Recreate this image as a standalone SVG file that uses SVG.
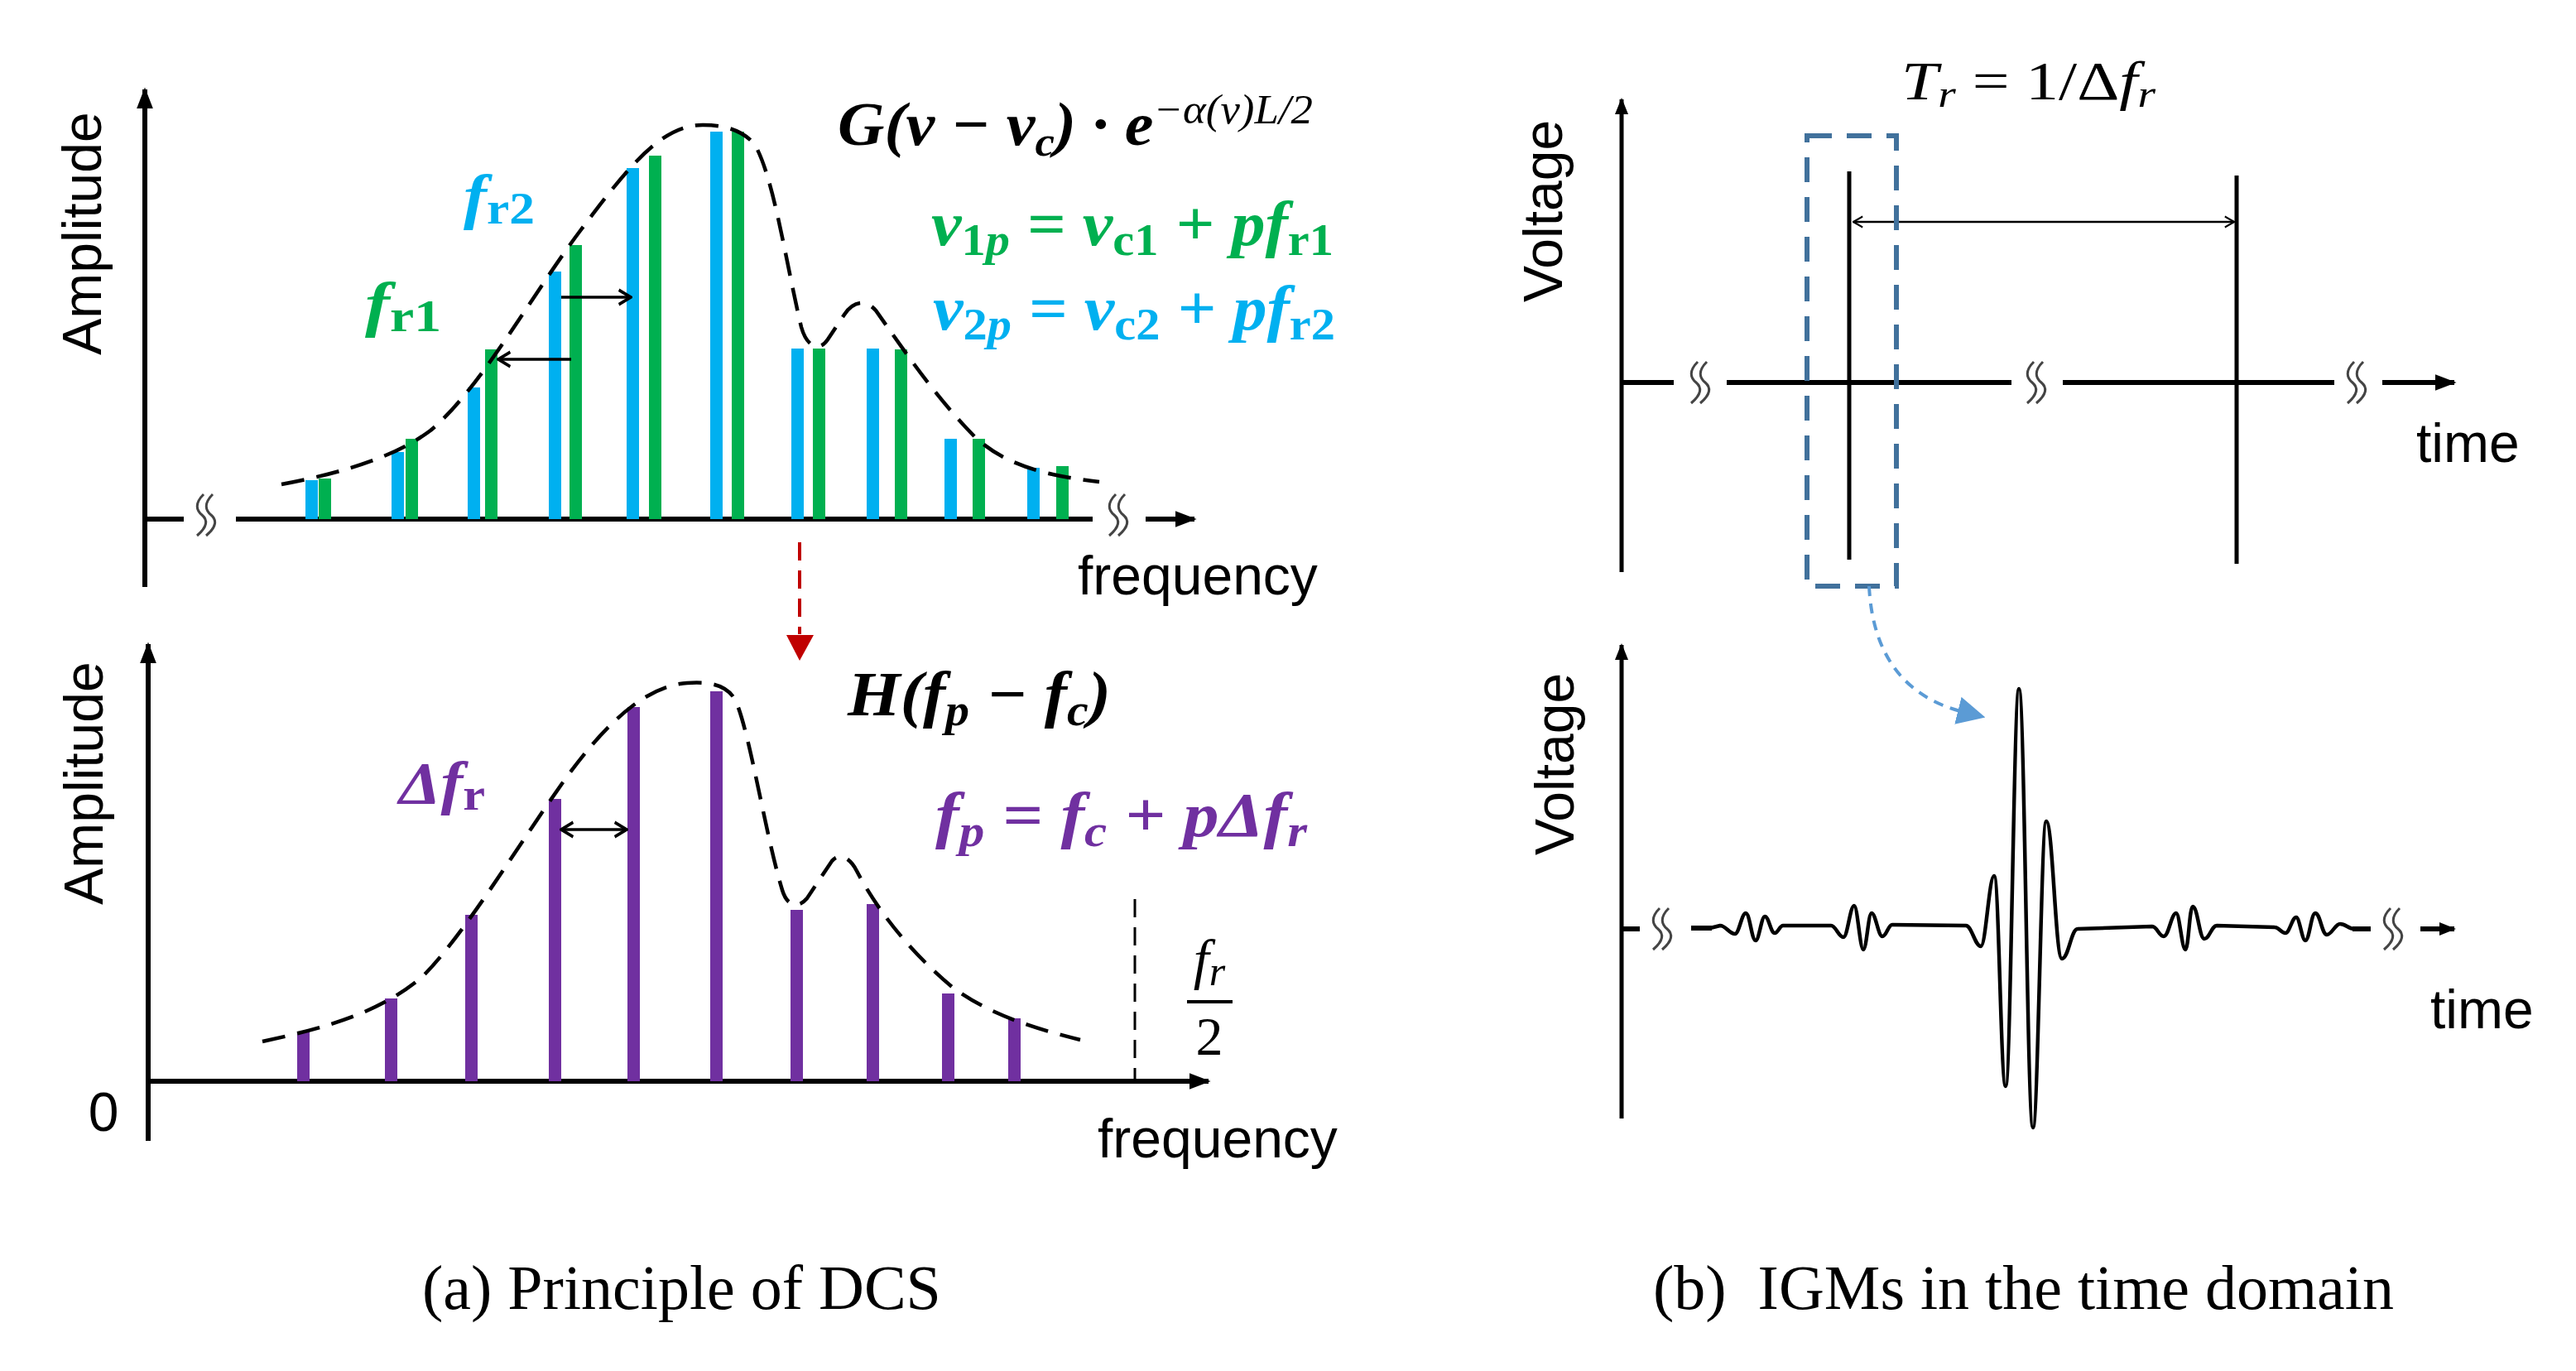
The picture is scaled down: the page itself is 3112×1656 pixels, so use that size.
<svg xmlns="http://www.w3.org/2000/svg" width="3112" height="1656" viewBox="0 0 3112 1656">
<style>
.ax{stroke:#000;stroke-width:6;fill:none}
.ax2{stroke:#000;stroke-width:5;fill:none}
.env{stroke:#000;stroke-width:4.5;fill:none;stroke-dasharray:28 15}
.lbl{font-family:"Liberation Sans",Arial,sans-serif;font-size:66px;fill:#000}
.m{font-family:"Liberation Serif","Times New Roman",serif;font-style:italic;font-weight:bold}
.mr{font-family:"Liberation Serif","Times New Roman",serif;font-style:italic;font-weight:normal}
.up{font-style:normal}
.cap{font-family:"Liberation Serif","Times New Roman",serif;font-size:76px;fill:#000}
.b{fill:#00B0F0}.g{fill:#00B050}.p{fill:#7030A0}
.brk{stroke:#444;stroke-width:3;fill:none}
</style>
<defs>
<marker id="ah" viewBox="0 0 10 10" refX="9" refY="5" markerWidth="26" markerHeight="20" markerUnits="userSpaceOnUse" orient="auto" preserveAspectRatio="none"><path d="M0,0 L10,5 L0,10 z" fill="#000"/></marker>
<marker id="ahs" viewBox="0 0 10 10" refX="9" refY="5" markerWidth="20" markerHeight="16" markerUnits="userSpaceOnUse" orient="auto" preserveAspectRatio="none"><path d="M0,0 L10,5 L0,10 z" fill="#000"/></marker>
<marker id="chev" viewBox="0 0 10 10" refX="9" refY="5" markerWidth="18" markerHeight="22" markerUnits="userSpaceOnUse" orient="auto-start-reverse" preserveAspectRatio="none"><path d="M1,1 L9,5 L1,9" fill="none" stroke="#000" stroke-width="1.8"/></marker>
<marker id="chevs" viewBox="0 0 10 10" refX="9" refY="5" markerWidth="14" markerHeight="16" markerUnits="userSpaceOnUse" orient="auto-start-reverse" preserveAspectRatio="none"><path d="M1,1 L9,5 L1,9" fill="none" stroke="#000" stroke-width="1.4"/></marker>
<marker id="lb" viewBox="0 0 10 10" refX="2" refY="5" markerWidth="34" markerHeight="34" markerUnits="userSpaceOnUse" orient="auto" preserveAspectRatio="none"><path d="M0,0 L10,5 L0,10 z" fill="#5B9BD5"/></marker>
<g id="brk"><path class="brk" d="M-2,-25 C-13,-14 -11,-6 -4,0 C3,6 3,14 -10,25"/><path class="brk" d="M9,-25 C-2,-14 0,-6 7,0 C14,6 14,14 1,25"/></g>
</defs>

<g id="panel-a-top">
<g id="axes-a-top">
<path class="ax" d="M175,709 V108" marker-end="url(#ah)"/>
<path class="ax" d="M175,627 H222 M285,627 H1320"/>
<path class="ax" d="M1384,627 H1443" marker-end="url(#ah)"/>
<use href="#brk" x="248" y="622"/>
<use href="#brk" x="1350" y="622"/>
</g>
<g id="bars-a-top">
<rect class="b" x="369" y="580" width="15" height="47"/><rect class="g" x="385" y="578" width="15" height="49"/>
<rect class="b" x="473" y="546" width="15" height="81"/><rect class="g" x="490" y="530" width="15" height="97"/>
<rect class="b" x="565" y="468" width="15" height="159"/><rect class="g" x="586" y="422" width="15" height="205"/>
<rect class="b" x="663" y="328" width="15" height="299"/><rect class="g" x="688" y="296" width="15" height="331"/>
<rect class="b" x="757" y="203" width="15" height="424"/><rect class="g" x="784" y="188" width="15" height="439"/>
<rect class="b" x="858" y="159" width="15" height="468"/><rect class="g" x="884" y="159" width="15" height="468"/>
<rect class="b" x="956" y="421" width="15" height="206"/><rect class="g" x="982" y="421" width="15" height="206"/>
<rect class="b" x="1047" y="421" width="15" height="206"/><rect class="g" x="1081" y="422" width="15" height="205"/>
<rect class="b" x="1141" y="530" width="15" height="97"/><rect class="g" x="1175" y="530" width="15" height="97"/>
<rect class="b" x="1241" y="565" width="15" height="62"/><rect class="g" x="1276" y="563" width="15" height="64"/>
</g>
<path id="env-a-top" class="env" d="M340,585 C420,570 480,550 520,520 C580,470 640,360 700,280 C760,200 800,150 850,151 C880,151 900,160 912,175 C935,215 950,320 968,395 C975,420 990,425 1000,410 L1020,380 C1030,365 1045,360 1058,375 C1090,420 1130,480 1180,530 C1220,565 1270,575 1328,582"/>
<path class="ax" style="stroke-width:3.5" d="M602,434 H690 M678,359 H762" marker-start="url(#chev)" marker-end="url(#chev)"/>
<text class="m b" x="560" y="262" font-size="74" textLength="86" lengthAdjust="spacingAndGlyphs">f<tspan class="up" font-size="54" dy="8">r2</tspan></text>
<text class="m g" x="441" y="392" font-size="74" textLength="92" lengthAdjust="spacingAndGlyphs">f<tspan class="up" font-size="54" dy="8">r1</tspan></text>
<text class="m" x="1012" y="175" font-size="74" textLength="574" lengthAdjust="spacingAndGlyphs">G(v − v<tspan font-size="50" dy="13">c</tspan><tspan dy="-13">) · e</tspan><tspan class="mr" font-size="50" dy="-26">−α(v)L/2</tspan></text>
<text class="m g" x="1125" y="296" font-size="76" textLength="486" lengthAdjust="spacingAndGlyphs">v<tspan font-size="54" dy="12"><tspan class="up">1</tspan>p</tspan><tspan dy="-12"> = ν</tspan><tspan class="up" font-size="54" dy="12">c1</tspan><tspan dy="-12"> + pf</tspan><tspan class="up" font-size="54" dy="12">r1</tspan></text>
<text class="m b" x="1127" y="398" font-size="76" textLength="486" lengthAdjust="spacingAndGlyphs">v<tspan font-size="54" dy="12"><tspan class="up">2</tspan>p</tspan><tspan dy="-12"> = ν</tspan><tspan class="up" font-size="54" dy="12">c2</tspan><tspan dy="-12"> + pf</tspan><tspan class="up" font-size="54" dy="12">r2</tspan></text>
<text class="lbl" transform="translate(122,282) rotate(-90)" text-anchor="middle">Amplitude</text>
<text class="lbl" x="1302" y="718">frequency</text>
</g>

<g id="connector-red">
<path d="M966,655 V766" stroke="#C00000" stroke-width="4" stroke-dasharray="22 12" fill="none"/>
<path d="M950,767 L983,767 L966,798 z" fill="#C00000"/>
</g>

<g id="panel-a-bottom">
<g id="axes-a-bottom">
<path class="ax" d="M179,1378 V778" marker-end="url(#ah)"/>
<path class="ax" d="M179,1306 H1460" marker-end="url(#ah)"/>
<path d="M1371,1086 V1305" stroke="#000" stroke-width="3" stroke-dasharray="22 12" fill="none"/>
</g>
<g id="bars-a-bottom" class="p">
<rect x="359" y="1246" width="15" height="60"/>
<rect x="465" y="1206" width="15" height="100"/>
<rect x="562" y="1105" width="15" height="201"/>
<rect x="663" y="965" width="15" height="341"/>
<rect x="758" y="854" width="15" height="452"/>
<rect x="858" y="835" width="15" height="471"/>
<rect x="955" y="1099" width="15" height="207"/>
<rect x="1047" y="1092" width="15" height="214"/>
<rect x="1138" y="1200" width="15" height="106"/>
<rect x="1218" y="1230" width="15" height="76"/>
</g>
<path id="env-a-bottom" class="env" d="M317,1258 C400,1240 460,1222 510,1180 C560,1130 620,1030 680,945 C730,875 780,828 830,825 C860,823 878,828 888,845 C905,880 925,1010 945,1075 C950,1092 962,1100 975,1085 L1005,1040 C1015,1028 1028,1038 1035,1052 C1060,1100 1100,1150 1150,1192 C1190,1222 1240,1240 1305,1256"/>
<path class="ax" style="stroke-width:3.5" d="M678,1002 H757" marker-start="url(#chev)" marker-end="url(#chev)"/>
<text class="m p" x="482" y="970" font-size="72" textLength="104" lengthAdjust="spacingAndGlyphs">Δf<tspan class="up" font-size="54" dy="8">r</tspan></text>
<text class="m" x="1024" y="864" font-size="76" textLength="318" lengthAdjust="spacingAndGlyphs">H(f<tspan font-size="54" dy="12">p</tspan><tspan dy="-12"> − f</tspan><tspan font-size="54" dy="12">c</tspan><tspan dy="-12">)</tspan></text>
<text class="m p" x="1130" y="1010" font-size="76" textLength="449" lengthAdjust="spacingAndGlyphs">f<tspan font-size="54" dy="12">p</tspan><tspan dy="-12"> = f</tspan><tspan font-size="54" dy="12">c</tspan><tspan dy="-12"> + pΔf</tspan><tspan font-size="54" dy="12">r</tspan></text>
<text class="mr" x="1461" y="1182" font-size="68" text-anchor="middle">f<tspan font-size="50" dy="8">r</tspan></text>
<path d="M1434,1210 H1489" stroke="#000" stroke-width="4"/>
<text class="mr up" x="1461" y="1274" font-size="66" text-anchor="middle">2</text>
<text class="lbl" transform="translate(124,946) rotate(-90)" text-anchor="middle">Amplitude</text>
<text class="lbl" x="125" y="1366" text-anchor="middle" font-size="60">0</text>
<text class="lbl" x="1326" y="1398">frequency</text>
</g>

<g id="panel-b-top">
<g id="axes-b-top">
<path class="ax2" d="M1959,691 V120" marker-end="url(#ahs)"/>
<path class="ax" d="M1959,462 H2022 M2086,462 H2430 M2492,462 H2820"/>
<path class="ax" d="M2878,462 H2965" marker-end="url(#ah)"/>
<use href="#brk" x="2053" y="462"/>
<use href="#brk" x="2459" y="462"/>
<use href="#brk" x="2846" y="462"/>
</g>
<path id="pulse1" class="ax2" d="M2234,207 V676"/>
<path id="pulse2" class="ax2" d="M2702,212 V681"/>
<path stroke="#000" stroke-width="2.5" fill="none" d="M2239,268 H2699" marker-start="url(#chevs)" marker-end="url(#chevs)"/>
<rect id="select-box" x="2183" y="164" width="108" height="544" fill="none" stroke="#41719C" stroke-width="6" stroke-dasharray="30 18"/>
<text class="mr" x="2297" y="120" font-size="66" textLength="307" lengthAdjust="spacingAndGlyphs">T<tspan font-size="46" dy="9">r</tspan><tspan dy="-9" class="up"> = 1/Δ</tspan>f<tspan font-size="46" dy="9">r</tspan></text>
<text class="lbl" transform="translate(1887,255) rotate(-90)" text-anchor="middle">Voltage</text>
<text class="lbl" x="2919" y="558">time</text>
</g>

<g id="connector-blue">
<path d="M2258,708 C2262,790 2300,842 2372,860" fill="none" stroke="#5B9BD5" stroke-width="4" stroke-dasharray="12 9" marker-end="url(#lb)"/>
</g>

<g id="panel-b-bottom">
<g id="axes-b-bottom">
<path class="ax2" d="M1959,1351 V779" marker-end="url(#ahs)"/>
<path class="ax" d="M1959,1122 H1981 M2043,1121 H2068 M2842,1122 H2864"/>
<path class="ax" d="M2924,1122 H2965" marker-end="url(#ahs)"/>
<use href="#brk" x="2007" y="1122"/>
<use href="#brk" x="2890" y="1122"/>
</g>
<path id="igm" fill="none" stroke="#000" stroke-width="4.5" stroke-linejoin="round" d="M2066,1121 L2078,1118 C2085,1118 2089,1128 2096,1128 C2101,1128 2104,1103 2109,1103 C2114,1103 2116,1136 2121,1136 C2125,1136 2128,1107 2132,1107 C2137,1107 2139,1127 2144,1127 C2148,1127 2150,1118 2154,1118 L2212,1118 C2218,1118 2221,1132 2227,1132 C2232,1132 2235,1094 2240,1094 C2244,1094 2247,1147 2251,1147 C2255,1147 2257,1103 2261,1103 C2266,1103 2269,1131 2274,1131 C2279,1131 2281,1117 2286,1117 L2375,1118 C2382,1118 2386,1143 2393,1143 C2399,1143 2403,1058 2409,1058 C2415,1058 2417,1312 2423,1312 C2429,1312 2433,832 2439,832 C2446,832 2449,1362 2456,1362 C2462,1362 2466,992 2472,992 C2480,992 2483,1158 2491,1158 C2499,1158 2502,1122 2510,1122 L2600,1119 C2606,1119 2608,1131 2614,1131 C2620,1131 2623,1103 2629,1103 C2633,1103 2636,1147 2640,1147 C2644,1147 2645,1095 2649,1095 C2655,1095 2657,1134 2663,1134 C2669,1134 2672,1118 2678,1118 L2748,1120 C2753,1120 2756,1127 2761,1127 C2766,1127 2769,1108 2774,1108 C2778,1108 2781,1136 2785,1136 C2790,1136 2792,1103 2797,1103 C2803,1103 2805,1129 2811,1129 C2817,1129 2821,1116 2827,1116 C2834,1116 2837,1122 2844,1122"/>
<text class="lbl" transform="translate(1901,923) rotate(-90)" text-anchor="middle">Voltage</text>
<text class="lbl" x="2936" y="1242">time</text>
</g>

<g id="captions">
<text class="cap" x="510" y="1581">(a) Principle of DCS</text>
<text class="cap" x="1997" y="1581" xml:space="preserve">(b)  IGMs in the time domain</text>
</g>
</svg>
